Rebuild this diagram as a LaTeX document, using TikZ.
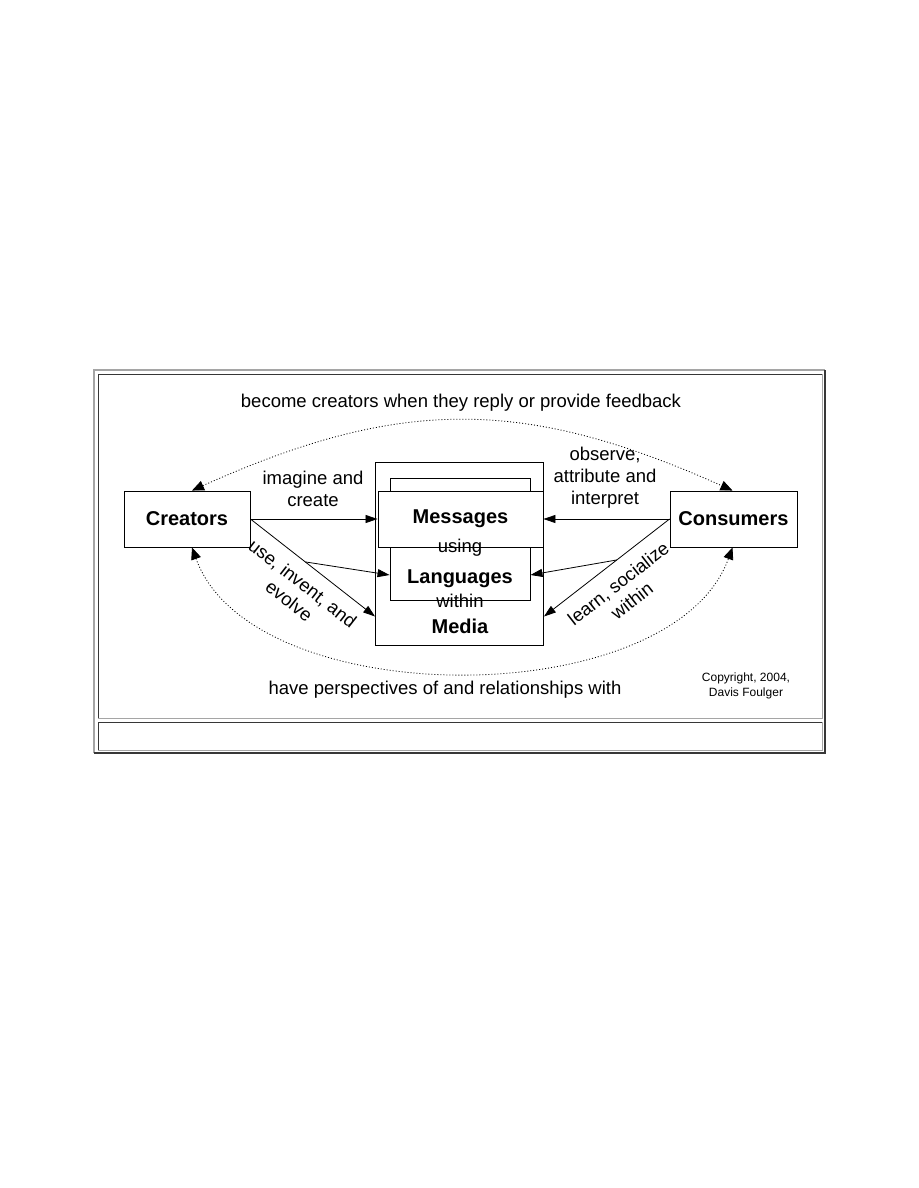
\documentclass[tikz,border=0pt]{standalone}
\usepackage{fontspec}
\setmainfont{Liberation Sans}
\usetikzlibrary{positioning,calc,arrows.meta}
\definecolor{cLite}{RGB}{165,165,165}
\definecolor{cDark}{RGB}{55,55,55}

\begin{document}
\begin{tikzpicture}[
  x=1pt, y=-1pt,
  font=\fontsize{18.5}{22}\selectfont,
  ent/.style  = {draw, line width=0.9pt, fill=white, inner sep=0pt,
                 minimum width=126pt, minimum height=56pt,
                 font=\fontsize{20}{24}\selectfont\bfseries},
  frm/.style  = {draw, line width=0.9pt, fill=white, inner sep=0pt},
  bld/.style  = {inner sep=0pt, font=\fontsize{20}{24}\selectfont\bfseries},
  lbl/.style  = {align=center, inner sep=0pt},
  flow/.style = {-{Triangle[length=12pt, width=8pt]}, line width=0.8pt},
  fb/.style   = {{Triangle[length=12pt, width=10pt]}-{Triangle[length=12pt, width=10pt]},
                 line width=0.8pt, dash pattern=on 1pt off 2pt}
]
\useasboundingbox[fill=white] (0,0) rectangle (918,1188);

% ------------------------------------------------------------ la cornice --
\draw[cLite, line width=2pt] (94,753) -- (94,370) -- (825,370);
\draw[cDark, line width=2pt] (825,370) -- (825,753) -- (94,753);
\draw[cDark, line width=1pt] (98,718) -- (98,374) -- (822,374);
\draw[cLite, line width=1pt] (822,374) -- (822,718) -- (98,718);
\draw[cDark, line width=1pt] (98,750) -- (98,722) -- (822,722);
\draw[cLite, line width=1pt] (822,722) -- (822,750) -- (98,750);

% -------------------------------------------------------- il centro --
\node[frm, minimum width=168pt, minimum height=183pt] (media) at (459.5,553.5) {};
\node[frm, minimum width=140pt, minimum height=122pt] (lang)  at (460,539) {};
\node[ent, minimum width=165pt]                     (msg)   at (460.5,519) {Messages};
\node[bld] (langTxt)  at (460,579) {Languages};
\node[bld] (mediaTxt) at (460,626) {Media};
\node[lbl] (using)    at (460,548) {using};
\node[lbl] (within)   at (460,601) {within};

% ------------------------------------------------------- i due lati --
\node[ent]                      (cre) at (187,519)   {Creators};
\node[ent, minimum width=127pt] (con) at (733.5,519) {Consumers};

% ------------------------------------------------------------ archi --
\coordinate (mL) at ([yshift=-63pt]media.west);
\coordinate (mR) at ([yshift=-63pt]media.east);
\coordinate (bL) at ($(cre.east)!0.44!(mL)$);
\coordinate (bR) at ($(con.west)!0.42!(mR)$);

\draw[flow] (cre.east) -- (msg.west);
\draw[flow] (con.west) -- (msg.east);
\draw[flow] (cre.east) -- (mL);
\draw[flow] (con.west) -- (mR);
\draw[flow] (bL) -- ([yshift=-36pt]lang.west);
\draw[flow] (bR) -- ([yshift=-36pt]lang.east);

% i due giri punteggiati, sopra e sotto
\draw[fb] ([xshift=5pt]cre.north) .. controls (400,397) and (524,397) .. ([xshift=-1pt]con.north);
\draw[fb] ([xshift=5pt]cre.south) .. controls (252,714) and (672,714) .. ([xshift=-1pt]con.south);

% ---------------------------------------------------------- etichette --
\node[lbl] (fbTop) at (461,403) {become creators when they reply or provide feedback};
\node[lbl] (fbBot) at (445,690) {have perspectives of and relationships with};
\node[lbl] (imag)  at (313,489) {imagine and\\create};
\node[lbl] (obs)   at (605,478) {observe,\\attribute and\\interpret};
\node[lbl, rotate=-38] (use)   at (296,592) {use, invent, and\\evolve};
\node[lbl, rotate=38]  (learn) at (625,592) {learn, socialize\\within};
\node[lbl, font=\fontsize{12}{15}\selectfont] (copy) at (746,686) {Copyright, 2004,\\Davis Foulger};

\end{tikzpicture}
\end{document}
